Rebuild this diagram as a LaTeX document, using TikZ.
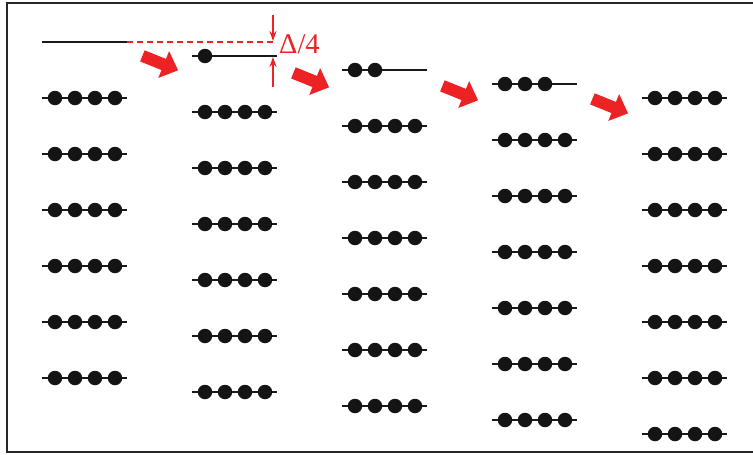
\documentclass[tikz,border=0pt]{standalone}
\usepackage{fontspec}
\newfontfamily\labfont{Liberation Serif}
\usetikzlibrary{arrows.meta}
\definecolor{myred}{RGB}{237,34,36}
\tikzset{
  dot/.style={circle,fill=black!92,inner sep=0pt,minimum size=14.5pt},
  lvl/.style={line width=1.1pt,black!90},
  redline/.style={myred,line width=1.5pt},
  blockarrow/.pic={\fill[myred] (-19,-6) -- (4,-6) -- (4,-14.5) -- (19.5,0) -- (4,14.5) -- (4,6) -- (-19,6) -- cycle;}
}
\begin{document}
\begin{tikzpicture}[x=1pt,y=-1pt]
\useasboundingbox (0,0) rectangle (753,455);
% frame
\draw[line width=2pt,black!85] (760,3) -- (7,3) -- (7,452) -- (760,452);
% levels
\foreach \k in {0,...,4}{
  \foreach \j in {0,...,6}{
    \pgfmathsetmacro\xa{42+150*\k}
    \pgfmathsetmacro\yy{42+14*\k+56*\j}
    \pgfmathtruncatemacro\n{\j==0 ? \k : 4}
    \coordinate (L\k-\j) at (\xa,\yy);
    \coordinate (R\k-\j) at (\xa+85,\yy);
    \draw[lvl] (L\k-\j) -- (R\k-\j);
    \ifnum\n>0
      \foreach \d in {1,...,\n}{
        \node[dot] (D\k-\j-\d) at (\xa+20*\d-7,\yy) {};
      }
    \fi
  }
}
% red dashed reference line and Delta/4 marker
\coordinate (dend) at (275,42);
\draw[redline,dash pattern=on 6pt off 4pt] (R0-0) -- (dend);
\coordinate (t1) at (273,15);
\coordinate (t2) at (273,41);
\coordinate (b1) at (273,87);
\coordinate (b2) at (273,57);
\draw[redline,-{Stealth[length=10pt,width=7pt]}] (t1) -- (t2);
\draw[redline,-{Stealth[length=10pt,width=7pt]}] (b1) -- (b2);
\node[myred,font=\labfont\fontsize{28.5}{28.5}\selectfont,inner sep=0pt,anchor=base west] (lab) at (279,53) {Δ/4};
% block arrows
\pic[rotate=-22] at (160,63) {blockarrow};
\pic[rotate=-22] at (311,80) {blockarrow};
\pic[rotate=-22] at (460,93) {blockarrow};
\pic[rotate=-22] at (610,106) {blockarrow};
\end{tikzpicture}
\end{document}
